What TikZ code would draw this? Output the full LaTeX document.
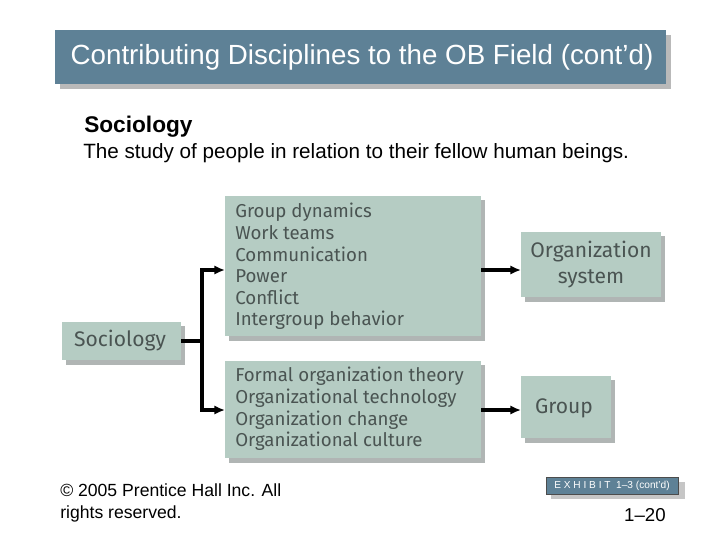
\documentclass[tikz,border=0pt]{standalone}
\usepackage{fontspec}
\setmainfont{Liberation Sans}
\newfontfamily\boxfont{Fira Sans}
\definecolor{titlebg}{HTML}{5E8196}
\definecolor{boxbg}{HTML}{B5CCC3}
\definecolor{boxtxt}{HTML}{4A5452}
\definecolor{shad}{HTML}{8E9694}
\usetikzlibrary{arrows.meta}
\tikzset{
 btxt/.style={font=\boxfont\fontsize{14}{16.2}\selectfont, text=boxtxt, align=left, inner sep=0pt},
 bigtxt/.style={font=\boxfont\fontsize{15.8}{19.5}\selectfont, text=boxtxt, align=center, inner sep=0pt},
 conn/.style={line width=2.8pt, -{Latex[length=8pt,width=7pt]}},
 lineonly/.style={line width=2.8pt}
}
\begin{document}
\begin{tikzpicture}[x=0.75pt,y=-0.75pt]
\useasboundingbox (0,0) rectangle (720,540);
% title
\fill[gray!55] (60,35) rectangle (671,89);
\fill[titlebg] (55,30) rectangle (666,84);
\node (title) at (362,57) [text=white, font=\fontsize{20.8}{22}\selectfont] {Contributing Disciplines to the OB Field (cont’d)};
\node (soc) [anchor=west, inner sep=0pt, font=\bfseries\fontsize{17}{19}\selectfont] at (84,127) {Sociology};
\node (def) [anchor=west, inner sep=0pt, font=\fontsize{15.5}{17}\selectfont] at (83,153) {The study of people in relation to their fellow human beings.};
% shadows
\foreach \a/\b/\c/\d in {225/196/481/336, 225/361/481/458, 521/232/661/297, 521/376/611/438, 62/322/181/360}
  \fill[shad, opacity=0.7] (\a+4,\b+4) rectangle (\c+4,\d+5);
\fill[boxbg] (225,196) rectangle (481,336);
\node (A) [btxt, anchor=north west] at (235,203) {Group dynamics\\Work teams\\Communication\\Power\\Conflict\\Intergroup behavior};
\fill[boxbg] (225,361) rectangle (481,458);
\node (B) [btxt, anchor=north west] at (235,367) {Formal organization theory\\Organizational technology\\Organization change\\Organizational culture};
\fill[boxbg] (521,232) rectangle (661,297);
\node (O) [bigtxt] at (591,265) {Organization\\system};
\fill[boxbg] (521,376) rectangle (611,438);
\node (G) [bigtxt] at (564,408) {Group};
\fill[boxbg] (62,322) rectangle (181,360);
\node (S) [bigtxt] at (120,341) {Sociology};
\coordinate (sR) at (181,341);
\coordinate (j) at (202,341);
\coordinate (aL) at (225,270);
\coordinate (bL) at (225,410);
\coordinate (aR) at (481,270);
\coordinate (bR) at (481,410);
\coordinate (oL) at (521,270);
\coordinate (gL) at (521,410);
\draw[lineonly] (sR) -- (j);
\draw[conn] (j) |- (aL);
\draw[conn] (j) |- (bL);
\draw[conn] (aR) -- (oL);
\draw[conn] (bR) -- (gL);
% footer
\node (copy) [anchor=north west, inner sep=0pt, align=left, font=\fontsize{13.2}{16.5}\selectfont] at (60,483) {© 2005 Prentice Hall Inc. All\\rights reserved.};
\fill[gray!45] (551,482) rectangle (685,499);
\fill[titlebg] (546,477) rectangle (678,494);
\draw[black!70,line width=0.4pt] (546,477) rectangle (678,494);
\node (ex) at (612,485.5) [text=white, font=\fontsize{7.6}{8}\selectfont] {E X H I B I T\ \ 1–3 (cont’d)};
\node (pg) [anchor=east, inner sep=0pt, font=\fontsize{14}{16}\selectfont] at (666,515) {1–20};
\end{tikzpicture}
\end{document}
